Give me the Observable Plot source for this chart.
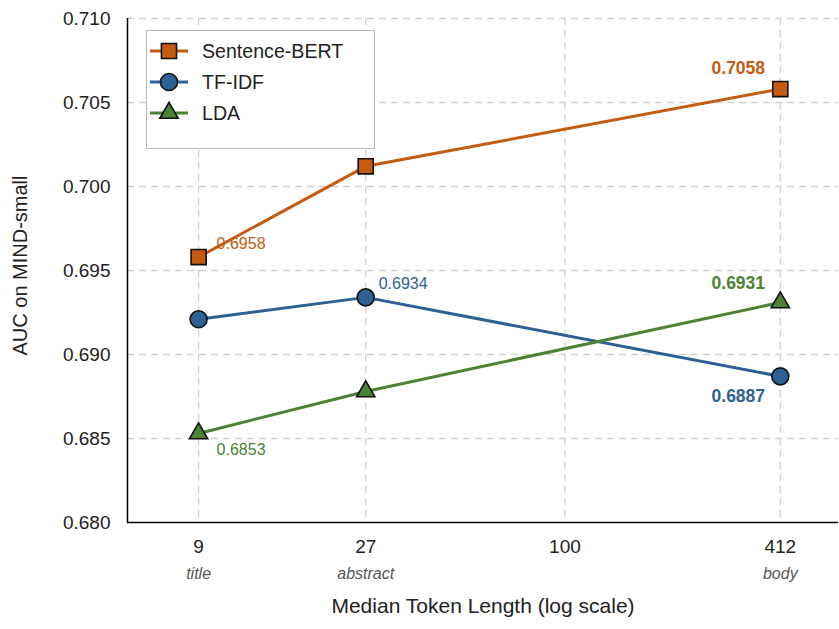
<!DOCTYPE html>
<html>
<head>
<meta charset="utf-8">
<script src="https://cdn.jsdelivr.net/npm/d3@7"></script>
<script src="https://cdn.jsdelivr.net/npm/@observablehq/plot@0.6"></script>
<style>
  body { margin: 0; background: #fff; font-family: "Liberation Sans", Arial, sans-serif; }
  #wrap { position: relative; width: 839px; height: 629px; }
  #legend { position: absolute; left: 146px; top: 30px; width: 227px; height: 117px;
            border: 1.5px solid #b8b8b8; background: #fff; box-sizing: content-box; }
  .row { position: absolute; left: 2px; height: 30px; display: flex; align-items: center; }
  .row span { font-size: 19.6px; color: #222; margin-left: 13px; }
</style>
</head>
<body>
<div id="wrap"><div id="legend"></div></div>
<script>
// ---- data ----
const tokenLengths = [9, 27, 412];
const fieldNames = ["title", "abstract", "body"];
const xTicks = [9, 27, 100, 412];
const yTicks = [0.680, 0.685, 0.690, 0.695, 0.700, 0.705, 0.710];
const methods = ["Sentence-BERT", "TF-IDF", "LDA"];
const sbertAUC = [0.6958, 0.7012, 0.7058];
const tfidfAUC = [0.6921, 0.6934, 0.6887];
const ldaAUC   = [0.6853, 0.6878, 0.6931];
const colors = ["#C55A11", "#2D6193", "#4B8233"];
const symbols = ["square", "circle", "triangle"];
const xLabel = "Median Token Length (log scale)";
const yLabel = "AUC on MIND-small";

const series = [sbertAUC, tfidfAUC, ldaAUC];
const rows = [];
methods.forEach((m, i) => series[i].forEach((v, j) => rows.push({method: m, x: tokenLengths[j], y: v, idx: j})));
const byMethod = m => rows.filter(r => r.method === m);
const pt = (m, j) => rows.filter(r => r.method === m && r.idx === j);
const fmt = d3.format(".4f");

const xDomain = [5.64, 604];
const yDomain = [0.680, 0.710];
const font = "Liberation Sans, Arial, sans-serif";

const marks = [
  Plot.gridX(xTicks, {stroke: "#d0d0d0", strokeOpacity: 1, strokeDasharray: "7,5", strokeWidth: 1.3}),
  Plot.gridY(yTicks.slice(1), {stroke: "#d0d0d0", strokeOpacity: 1, strokeDasharray: "7,5", strokeWidth: 1.3}),
  Plot.ruleY([yDomain[0]], {stroke: "#000", strokeWidth: 1.5}),
  Plot.ruleX([xDomain[0]], {stroke: "#000", strokeWidth: 1.5}),
  // tick labels
  Plot.text(xTicks, {x: d => d, text: d => String(d), frameAnchor: "bottom", dy: 30, fontSize: 19, fill: "#222"}),
  Plot.text(tokenLengths, {x: d => d, text: (d, i) => fieldNames[i], frameAnchor: "bottom", dy: 56, fontSize: 16, fontStyle: "italic", fill: "#555"}),
  Plot.text(yTicks, {y: d => d, text: d => d3.format(".3f")(d), frameAnchor: "left", textAnchor: "end", dx: -17, fontSize: 19, fill: "#222"}),
  Plot.text([xLabel], {text: d => d, frameAnchor: "bottom", textAnchor: "middle", dy: 90, fontSize: 21, fill: "#222"}),
  Plot.text([yLabel], {text: d => d, frameAnchor: "left", textAnchor: "middle", rotate: -90, dx: -107, dy: -5, fontSize: 20, fill: "#222"})
];

methods.forEach((m, i) => {
  marks.push(Plot.line(byMethod(m), {x: "x", y: "y", stroke: colors[i], strokeWidth: 3}));
});
methods.forEach((m, i) => {
  marks.push(Plot.dot(byMethod(m), {x: "x", y: "y", symbol: symbols[i], r: i === 2 ? 6.8 : 8.5,
    fill: colors[i], stroke: "#111", strokeWidth: 1.6}));
});

// annotations
marks.push(
  Plot.text(pt(methods[0], 0), {x: "x", y: "y", text: d => fmt(d.y), textAnchor: "start", dx: 18, dy: -13, fontSize: 16, fill: colors[0]}),
  Plot.text(pt(methods[1], 1), {x: "x", y: "y", text: d => fmt(d.y), textAnchor: "start", dx: 13, dy: -14, fontSize: 16, fill: colors[1]}),
  Plot.text(pt(methods[2], 0), {x: "x", y: "y", text: d => fmt(d.y), textAnchor: "start", dx: 18, dy: 16, fontSize: 16, fill: colors[2]}),
  Plot.text(pt(methods[0], 2), {x: "x", y: "y", text: d => fmt(d.y), dx: -42, dy: -21, fontSize: 17.5, fontWeight: "bold", fill: colors[0]}),
  Plot.text(pt(methods[2], 2), {x: "x", y: "y", text: d => fmt(d.y), dx: -42, dy: -19, fontSize: 17.5, fontWeight: "bold", fill: colors[2]}),
  Plot.text(pt(methods[1], 2), {x: "x", y: "y", text: d => fmt(d.y), dx: -42, dy: 20, fontSize: 17.5, fontWeight: "bold", fill: colors[1]})
);

const chart = Plot.plot({
  width: 839,
  height: 629,
  marginLeft: 127,
  marginRight: 1,
  marginTop: 18,
  marginBottom: 107,
  style: {fontFamily: font, background: "#fff"},
  x: {type: "log", domain: xDomain, axis: null},
  y: {domain: yDomain, axis: null},
  marks
});
document.getElementById("wrap").prepend(chart);

// legend (HTML overlay with small svg icons)
const legend = d3.select("#legend");
const symGen = {square: d3.symbolSquare, circle: d3.symbolCircle, triangle: d3.symbolTriangle};
methods.forEach((m, i) => {
  const row = legend.append("div").attr("class", "row").style("top", (5 + i * 31) + "px");
  const svg = row.append("svg").attr("width", 40).attr("height", 30);
  svg.append("line").attr("x1", 1).attr("x2", 39).attr("y1", 15).attr("y2", 15)
    .attr("stroke", colors[i]).attr("stroke-width", 3);
  const r = i === 2 ? 6.8 : 8.5;
  svg.append("path").attr("transform", "translate(20,15)")
    .attr("d", d3.symbol(symGen[symbols[i]], Math.PI * r * r)())
    .attr("fill", colors[i]).attr("stroke", "#111").attr("stroke-width", 1.6);
  row.append("span").text(m);
});
</script>
</body>
</html>
